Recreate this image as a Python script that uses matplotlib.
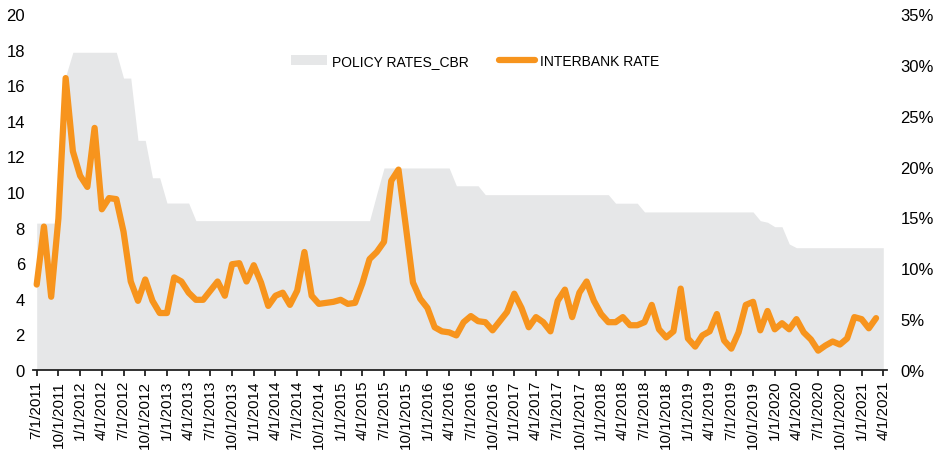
import numpy as np
import matplotlib
matplotlib.use("Agg")
import matplotlib.pyplot as plt
from matplotlib.patches import Patch
from matplotlib.lines import Line2D

plt.rcParams['font.family'] = ['Liberation Sans', 'DejaVu Sans']

# Policy rate (left axis), monthly from 7/2011
policy_rate = [
    8.25, 8.25, 8.25, 8.25, 16.5, 17.85, 17.85, 17.85, 17.85, 17.85,
    17.85, 17.85, 16.4, 16.4, 12.9, 12.9, 10.8, 10.8, 9.38, 9.38,
    9.38, 9.38, 8.39, 8.39, 8.39, 8.39, 8.39, 8.39, 8.39, 8.39,
    8.39, 8.39, 8.39, 8.39, 8.39, 8.39, 8.39, 8.39, 8.39, 8.39,
    8.39, 8.39, 8.39, 8.39, 8.39, 8.39, 8.39, 9.9, 11.35, 11.35,
    11.35, 11.35, 11.35, 11.35, 11.35, 11.35, 11.35, 11.35, 10.35, 10.35,
    10.35, 10.35, 9.85, 9.85, 9.85, 9.85, 9.85, 9.85, 9.85, 9.85,
    9.85, 9.85, 9.85, 9.85, 9.85, 9.85, 9.85, 9.85, 9.85, 9.85,
    9.37, 9.37, 9.37, 9.37, 8.88, 8.88, 8.88, 8.88, 8.88, 8.88,
    8.88, 8.88, 8.88, 8.88, 8.88, 8.88, 8.88, 8.88, 8.88, 8.88,
    8.39, 8.3, 8.05, 8.05, 7.08, 6.87, 6.87, 6.87, 6.87, 6.87,
    6.87, 6.87, 6.87, 6.87, 6.87, 6.87, 6.87, 6.87,
]

# Interbank rate (right axis, %), monthly from 7/2011
interbank_rate = [
    8.4, 14.1, 7.2, 14.9, 28.7, 21.5, 19.1, 18.0, 23.8, 15.8,
    16.9, 16.8, 13.6, 8.7, 6.8, 8.9, 6.8, 5.6, 5.6, 9.1,
    8.7, 7.6, 6.9, 6.9, 7.8, 8.7, 7.3, 10.4, 10.5, 8.7,
    10.3, 8.6, 6.3, 7.3, 7.6, 6.4, 7.8, 11.6, 7.3, 6.5,
    6.6, 6.7, 6.9, 6.5, 6.6, 8.5, 10.9, 11.6, 12.6, 18.6,
    19.7, 14.2, 8.6, 7.0, 6.1, 4.2, 3.8, 3.7, 3.4, 4.7,
    5.3, 4.8, 4.7, 3.9, 4.8, 5.7, 7.5, 6.1, 4.2, 5.2,
    4.7, 3.8, 6.8, 7.9, 5.2, 7.6, 8.7, 6.8, 5.5, 4.7,
    4.7, 5.2, 4.4, 4.4, 4.7, 6.4, 4.0, 3.2, 3.8, 8.0,
    3.1, 2.3, 3.4, 3.8, 5.5, 2.9, 2.1, 3.7, 6.4, 6.7,
    3.9, 5.8, 4.0, 4.6, 4.0, 5.0, 3.7, 3.0, 1.9, 2.4,
    2.8, 2.5, 3.1, 5.2, 5.0, 4.1, 5.1,
]

tick_labels = [
    '7/1/2011', '10/1/2011', '1/1/2012', '4/1/2012', '7/1/2012', '10/1/2012',
    '1/1/2013', '4/1/2013', '7/1/2013', '10/1/2013', '1/1/2014', '4/1/2014',
    '7/1/2014', '10/1/2014', '1/1/2015', '4/1/2015', '7/1/2015', '10/1/2015',
    '1/1/2016', '4/1/2016', '7/1/2016', '10/1/2016', '1/1/2017', '4/1/2017',
    '7/1/2017', '10/1/2017', '1/1/2018', '4/1/2018', '7/1/2018', '10/1/2018',
    '1/1/2019', '4/1/2019', '7/1/2019', '10/1/2019', '1/1/2020', '4/1/2020',
    '7/1/2020', '10/1/2020', '1/1/2021', '4/1/2021',
]

left_ticks = [0, 2, 4, 6, 8, 10, 12, 14, 16, 18, 20]
right_ticks = [0, 5, 10, 15, 20, 25, 30, 35]

GRAY = '#E6E7E8'
ORANGE = '#F7941D'

fig = plt.figure(figsize=(9.38, 4.60), dpi=100)
ax = fig.add_axes([0.0355, 0.1935, 0.9098, 0.7739])
ax2 = ax.twinx()

xa = np.arange(len(policy_rate))
xl = np.arange(len(interbank_rate))

ax.fill_between(xa, 0, policy_rate, color=GRAY, lw=0, zorder=1)
ax2.plot(xl, interbank_rate, color=ORANGE, lw=4.5, solid_joinstyle='round',
         solid_capstyle='round', zorder=3)

ax.set_xlim(-0.47, 117.47)
ax.set_ylim(0, 20)
ax2.set_ylim(0, 35)

ax.set_yticks(left_ticks)
ax.set_yticklabels([str(v) for v in left_ticks], fontsize=12)
ax2.set_yticks(right_ticks)
ax2.set_yticklabels([f'{v}%' for v in right_ticks], fontsize=12)

ax.set_xticks(np.arange(0, len(policy_rate), 3))
ax.set_xticklabels(tick_labels, rotation=90, fontsize=11)

for a in (ax, ax2):
    for s in ('top', 'right', 'left'):
        a.spines[s].set_visible(False)
ax2.spines['bottom'].set_visible(False)
ax.spines['bottom'].set_linewidth(1.3)
ax.spines['bottom'].set_color('#222222')
ax.tick_params(axis='x', direction='out', length=4, width=1.3, color='#222222', pad=3)
ax.tick_params(axis='y', length=0, pad=6)
ax2.tick_params(axis='y', length=0, pad=10)

handles = [Patch(facecolor=GRAY, edgecolor='none'),
           Line2D([0], [0], color=ORANGE, lw=4.5, solid_capstyle='round')]
ax2.legend(handles, ['POLICY RATES_CBR', 'INTERBANK RATE'], loc='center',
           bbox_to_anchor=(0.5176, 0.868), ncol=2, frameon=False, fontsize=10,
           handlelength=2.6, handleheight=0.75, handletextpad=0.35,
           columnspacing=2.2)

fig.savefig('out.png', dpi=100)
